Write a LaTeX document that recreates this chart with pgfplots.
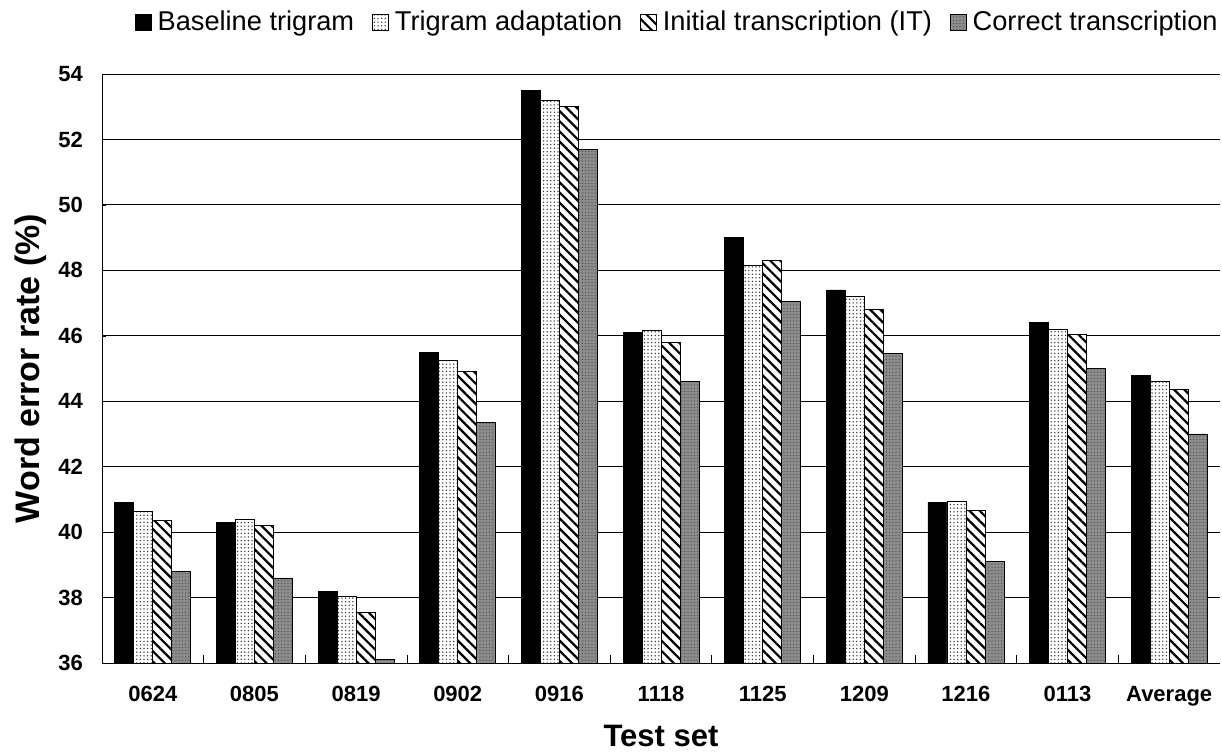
\documentclass[border=0pt]{standalone}
\usepackage{fontspec}
\setmainfont{Liberation Sans}
\usepackage{pgfplots}
\pgfplotsset{compat=1.18}
\usetikzlibrary{patterns.meta}

\begin{document}
\begin{tikzpicture}
\begin{axis}[
    scale only axis,
    width=559pt, height=294.5pt,
    ybar=0pt, bar width=9.5pt,
    xmin=-0.5, xmax=10.5,
    ymin=36, ymax=54,
    ytick={36,38,...,54},
    xtick={0,...,10},
    xticklabels={0624,0805,0819,0902,0916,1118,1125,1209,1216,0113,Average},
    minor xtick={0.5,1.5,...,9.5},
    major x tick style={draw=none},
    minor x tick style={black, thin},
    minor tick length=4pt,
    major tick length=2pt,
    y tick style={black},
    tick align=inside,
    axis x line*=bottom, axis y line*=left,
    ymajorgrids, grid style={black, thin},
    axis line style={black, thin},
    /pgf/number format/assume math mode=true,
    ticklabel style={font=\fontsize{11}{12}\selectfont\bfseries},
    xticklabel style={yshift=-8pt},
    yticklabel style={xshift=-6pt},
    xlabel={\textbf{Test set}},
    ylabel={\textbf{Word error rate (\%)}},
    xlabel style={font=\fontsize{15.5}{18}\selectfont, yshift=-3pt},
    ylabel style={font=\fontsize{17}{19}\selectfont, yshift=-1pt},
    legend style={at={(1,1)}, anchor=south east, yshift=18pt, xshift=1pt, draw=none,
        font=\fontsize{13.6}{15}\selectfont, legend columns=4,
        inner sep=0pt,
        /tikz/every odd column/.style={column sep=1pt},
        /tikz/every even column/.style={column sep=7pt}},
    legend image code/.code={\draw[#1] (0cm,-0.14cm) rectangle (0.28cm,0.14cm);},
]
\addplot[draw=black, fill=black] coordinates {
 (0,40.9) (1,40.3) (2,38.2) (3,45.5) (4,53.5) (5,46.1) (6,49.0) (7,47.4) (8,40.9) (9,46.4) (10,44.8)};
\addplot[draw=black, fill=white, postaction={pattern={Dots[distance=1.8pt, radius=0.38pt]}, pattern color=black!80}] coordinates {
 (0,40.62) (1,40.4) (2,38.05) (3,45.25) (4,53.2) (5,46.15) (6,48.15) (7,47.2) (8,40.95) (9,46.2) (10,44.6)};
\addplot[draw=black, fill=white, postaction={pattern={Lines[angle=-45, distance=3.6pt, line width=1.1pt]}, pattern color=black}] coordinates {
 (0,40.35) (1,40.2) (2,37.55) (3,44.9) (4,53.0) (5,45.8) (6,48.3) (7,46.8) (8,40.65) (9,46.05) (10,44.35)};
\addplot[draw=black, fill=black!45, postaction={pattern={Dots[distance=1.6pt, radius=0.3pt]}, pattern color=black!75}] coordinates {
 (0,38.8) (1,38.6) (2,36.1) (3,43.35) (4,51.7) (5,44.6) (6,47.05) (7,45.45) (8,39.1) (9,45.0) (10,43.0)};
\legend{Baseline trigram, Trigram adaptation, Initial transcription (IT), Correct transcription}
\coordinate (sw) at (rel axis cs:0,0);
\coordinate (ne) at (rel axis cs:1,1);
\end{axis}
\pgfresetboundingbox
\path ([shift={(-51pt,-45pt)}]sw) rectangle ([shift={(1pt,37pt)}]ne);
\end{tikzpicture}
\end{document}
